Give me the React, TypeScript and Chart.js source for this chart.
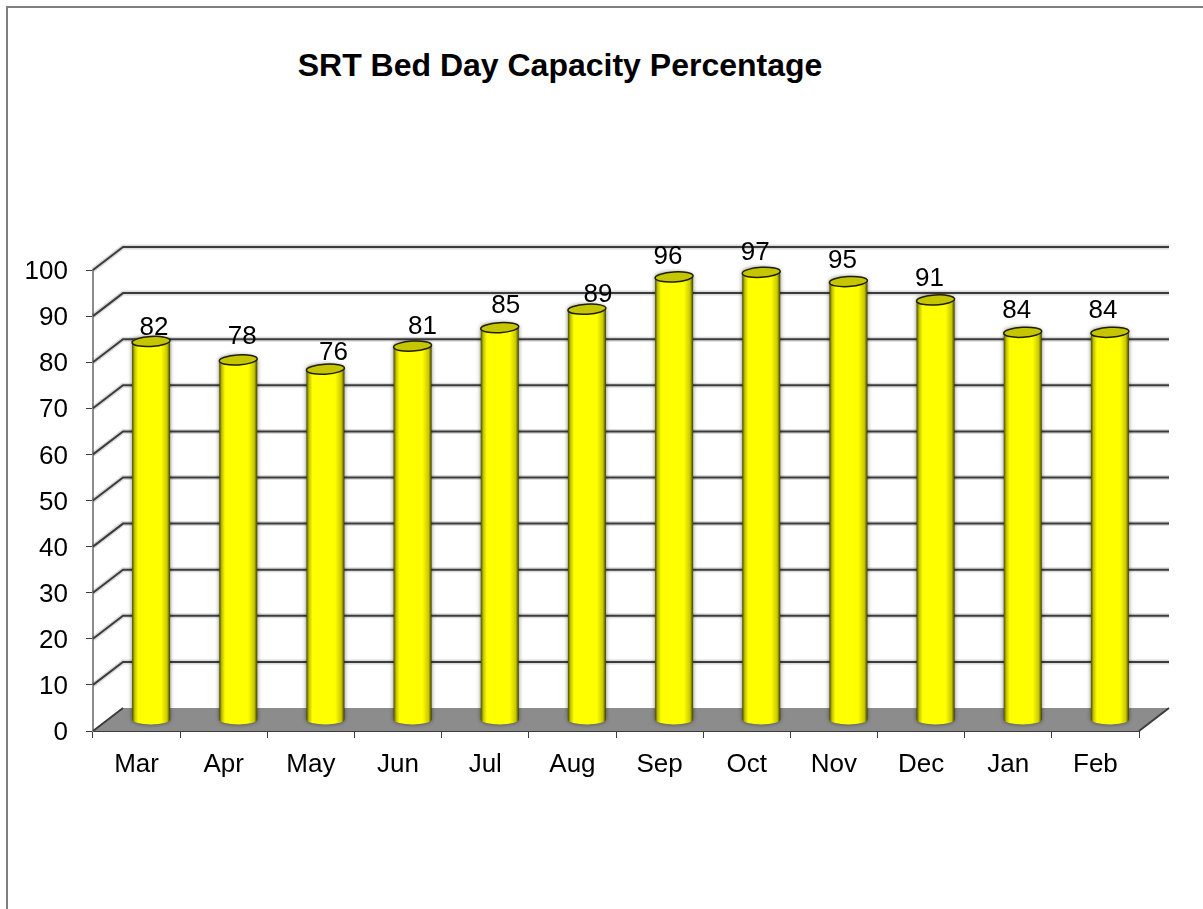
import React, { useEffect, useRef } from "react";
import { Chart, registerables } from "chart.js";

Chart.register(...registerables);

const categories = ["Mar", "Apr", "May", "Jun", "Jul", "Aug", "Sep", "Oct", "Nov", "Dec", "Jan", "Feb"];
const capacity = [82, 78, 76, 81, 85, 89, 96, 97, 95, 91, 84, 84];
const valueTicks = [0, 10, 20, 30, 40, 50, 60, 70, 80, 90, 100];
// hand-placed data label offsets seen in the reference (px from the cylinder top centre)
const labelNudgeX = [3, 4, 8, 10, 6, 11, -6, -6, -6, -6, -6, -7];
const labelNudgeY = [-14, -23, -16, -19, -22, -14, -20, -20, -21, -21, -21, -21];

const DEPTH_X = 30;
const DEPTH_Y = -23;
const FONT = "'Liberation Sans', Arial, sans-serif";
const LINE = "#3c3c3c";

const cylinder3d = {
  id: "cylinder3d",
  beforeDatasetsDraw(chart: any) {
    const { ctx, chartArea: a, scales } = chart;
    const y = scales.y;
    ctx.save();
    // floor
    ctx.fillStyle = "#8c8c8c";
    ctx.beginPath();
    ctx.moveTo(a.left, a.bottom);
    ctx.lineTo(a.right, a.bottom);
    ctx.lineTo(a.right + DEPTH_X, a.bottom + DEPTH_Y);
    ctx.lineTo(a.left + DEPTH_X, a.bottom + DEPTH_Y);
    ctx.closePath();
    ctx.fill();
    // gridlines on side and back walls
    valueTicks.forEach((t) => {
      if (t === 0) return;
      const py = y.getPixelForValue(t);
      ctx.strokeStyle = "rgba(0,0,0,0.14)";
      ctx.lineWidth = 5;
      ctx.beginPath();
      ctx.moveTo(a.left, py);
      ctx.lineTo(a.left + DEPTH_X, py + DEPTH_Y);
      ctx.lineTo(a.right + DEPTH_X, py + DEPTH_Y);
      ctx.stroke();
      ctx.strokeStyle = LINE;
      ctx.lineWidth = 2;
      ctx.beginPath();
      ctx.moveTo(a.left, py);
      ctx.lineTo(a.left + DEPTH_X, py + DEPTH_Y);
      ctx.lineTo(a.right + DEPTH_X, py + DEPTH_Y);
      ctx.stroke();
    });
    // floor edges
    ctx.strokeStyle = LINE;
    ctx.lineWidth = 2;
    ctx.beginPath();
    ctx.moveTo(a.left, a.bottom);
    ctx.lineTo(a.left + DEPTH_X, a.bottom + DEPTH_Y);
    ctx.moveTo(a.right, a.bottom);
    ctx.lineTo(a.right + DEPTH_X, a.bottom + DEPTH_Y);
    ctx.stroke();
    ctx.restore();
  },
  afterDatasetsDraw(chart: any) {
    const { ctx, scales } = chart;
    const meta = chart.getDatasetMeta(0);
    ctx.save();
    meta.data.forEach((bar: any, i: number) => {
      const cx = bar.x + DEPTH_X / 2 - 0.5;
      const topY = bar.y + DEPTH_Y / 2;
      const baseY = scales.y.getPixelForValue(0) + DEPTH_Y / 2;
      const r = bar.width / 2;
      const ry = 5;
      const left = cx - r;
      const right = cx + r;

      const body = ctx.createLinearGradient(left, 0, right, 0);
      body.addColorStop(0, "#4a4a00");
      body.addColorStop(0.07, "#c4c400");
      body.addColorStop(0.16, "#ffff00");
      body.addColorStop(0.76, "#ffff00");
      body.addColorStop(0.92, "#c8c800");
      body.addColorStop(1, "#3c3c00");

      ctx.save();
      ctx.shadowColor = "rgba(0,0,0,0.5)";
      ctx.shadowBlur = 4;
      ctx.fillStyle = body;
      ctx.beginPath();
      ctx.moveTo(left, topY);
      ctx.lineTo(left, baseY);
      ctx.ellipse(cx, baseY, r, ry, 0, Math.PI, 0, true);
      ctx.lineTo(right, topY);
      ctx.ellipse(cx, topY, r, ry, 0, 0, Math.PI, true);
      ctx.closePath();
      ctx.fill();
      ctx.restore();

      ctx.fillStyle = "#c6c600";
      ctx.strokeStyle = "#1e1e00";
      ctx.lineWidth = 1.5;
      ctx.beginPath();
      ctx.ellipse(cx, topY, r, ry, -0.06, 0, Math.PI * 2);
      ctx.fill();
      ctx.stroke();

      ctx.fillStyle = "#000";
      ctx.font = `26px ${FONT}`;
      ctx.textAlign = "center";
      ctx.textBaseline = "middle";
      ctx.fillText(String(capacity[i]), cx + labelNudgeX[i], topY + labelNudgeY[i]);
    });
    ctx.restore();
  },
};

export default function App() {
  const ref = useRef<HTMLCanvasElement>(null);
  useEffect(() => {
    document.body.style.margin = "0";
    const chart = new Chart(ref.current as HTMLCanvasElement, {
      type: "bar",
      data: {
        labels: categories,
        datasets: [
          {
            label: "SRT Bed Day Capacity Percentage",
            data: capacity,
            backgroundColor: "rgba(255,255,0,0)",
            barPercentage: 0.436,
            categoryPercentage: 1,
          },
        ],
      },
      options: {
        animation: false,
        responsive: false,
        layout: { padding: { left: 0, right: 64, top: 270, bottom: 0 } },
        plugins: { legend: { display: false }, tooltip: { enabled: false }, title: { display: false } },
        scales: {
          x: {
            offset: true,
            grid: { drawOnChartArea: false, offset: true, color: LINE, tickLength: 7, lineWidth: 1 },
            border: { color: LINE, width: 2 },
            ticks: { color: "#000", font: { family: FONT, size: 26 }, padding: 11, maxRotation: 0, autoSkip: false },
            afterFit(s: any) { s.height = 178; },
          },
          y: {
            min: 0,
            max: 100,
            afterBuildTicks(s: any) { s.ticks = valueTicks.map((value) => ({ value })); },
            grid: { drawOnChartArea: false, color: LINE, tickLength: 7, lineWidth: 1 },
            border: { color: "#8c8c8c", width: 2 },
            ticks: { color: "#000", font: { family: FONT, size: 26 }, padding: 18, labelOffset: 2 },
            afterFit(s: any) { s.width = 93; },
          },
        },
      },
      plugins: [cylinder3d],
    } as any);
    return () => chart.destroy();
  }, []);
  return (
    <div style={{ position: "relative", width: 1203, height: 909, overflow: "hidden", background: "#fff" }}>
      <div style={{ position: "absolute", left: 6, top: 6, width: 1300, height: 1000, border: "2px solid #7f7f7f" }} />
      <div
        style={{
          position: "absolute",
          left: 0,
          top: 47,
          width: 1120,
          textAlign: "center",
          font: `bold 32px ${FONT}`,
          color: "#000",
        }}
      >
        SRT Bed Day Capacity Percentage
      </div>
      <canvas ref={ref} width={1203} height={909} style={{ position: "absolute", left: 0, top: 0 }} />
    </div>
  );
}
